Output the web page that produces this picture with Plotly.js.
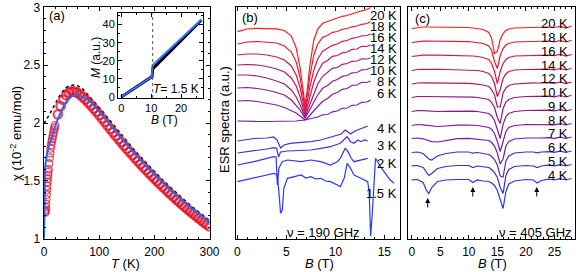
<!DOCTYPE html>
<html><head><meta charset="utf-8">
<script src="https://cdn.plot.ly/plotly-3.0.1.min.js"></script>
<style>html,body{margin:0;padding:0;background:#fff}#chart{width:581px;height:272px}</style>
</head><body><div id="chart"></div>
<script>
// ---------------- Panel (a): susceptibility ----------------
const T_exp = [1.8,2.2,2.6,3,3.5,4,4.5,5,5.5,6,6.5,7,7.5,8,9,10,11,12,13,14,15,16,17,18,19,20,
  25,30,35,40,45,50,55,60,65,70,75,80,85,90,95,100,105,110,115,120,125,130,135,140,145,150,
  155,160,165,170,175,180,185,190,195,200,205,210,215,220,225,230,235,240,245,250,255,260,
  265,270,275,280,285,290,295,300];
const chi_exp = [1.225,1.235,1.25,1.27,1.30,1.34,1.38,1.42,1.455,1.49,1.52,1.55,1.575,1.60,1.65,1.70,1.74,1.78,1.81,1.84,1.865,1.89,1.915,1.94,1.96,1.98,
  2.075,2.145,2.20,2.24,2.262,2.273,2.272,2.262,2.246,2.226,2.203,2.178,2.152,2.125,2.098,2.07,2.039,2.009,1.979,1.949,1.919,1.890,1.861,1.833,1.805,1.778,
  1.750,1.723,1.696,1.670,1.644,1.619,1.594,1.569,1.544,1.520,1.496,1.473,1.450,1.427,1.404,1.382,1.360,1.338,1.317,1.296,1.275,1.255,
  1.235,1.216,1.197,1.178,1.159,1.141,1.123,1.105];
const T_fit = [0,0.3,0.6,1,1.5,2,3,4,6,8,10,13,16,20,25,30,35,40,45,50,55,60,65,70,80,90,100,
  110,120,130,140,150,160,170,180,190,200,210,220,230,240,250,260,270,280,290,300];
const chi_fit = [1.0,1.2,1.38,1.5,1.57,1.61,1.66,1.695,1.745,1.785,1.82,1.87,1.915,1.97,2.035,2.09,2.14,2.18,2.21,2.23,2.24,2.242,2.237,2.227,2.2,2.155,2.10,
  2.042,1.983,1.925,1.868,1.813,1.758,1.705,1.654,1.604,1.555,1.508,1.462,1.417,1.373,1.331,1.29,1.251,1.213,1.176,1.14];
const T_dot = [0,5,10,15,20,25,30,35,40,45,50,55,60,65,70,80,90,100,110,120,130,140,150,160,170,180,190,200,210,220,230,240,250,260,270,280,290,300];
const chi_dot = [1.995,2.03,2.075,2.12,2.165,2.21,2.25,2.28,2.305,2.32,2.328,2.33,2.325,2.312,2.295,2.24,2.19,2.135,2.077,2.018,1.958,1.9,1.843,1.787,1.733,1.681,1.63,1.58,1.532,1.485,1.44,1.395,1.352,1.31,1.27,1.231,1.193,1.157];

// inset: magnetization at T = 1.5 K
const B_M_exp = [0,2,4,6,8,10,10.3,10.5,12,14,16,18,20,22,24,26,26.8];
const M_exp   = [0,2.2,4.3,6.5,8.7,10.8,11.3,15.5,18,21.3,24.6,27.9,31.2,34.5,37.7,41,42.5];
const B_M_fit = [0,5,10.2,10.45,15,20,26.8];
const M_fit   = [0,5.6,11.2,17.5,24.5,32,42.8];
const B_jump  = 10.5;

// ---------------- Panel (b): ESR at 190 GHz ----------------
const temps190 = ['20 K','18 K','16 K','14 K','12 K','10 K','8 K','6 K','4 K','3 K','2 K','1.5 K'];
const B190_hi = [0,1,2,3,4,4.8,5.5,6.0,6.4,6.7,6.9,7.1,7.4,7.8,8.2,8.7,9.2,9.7,10.2,10.7,11.2,11.7,12.2,12.7,13.2,13.6];
const esr190_20K = [206.8,209.5,210.2,210.2,209.7,208,202.5,190.5,170.5,148.5,133.5,146.5,173.5,198.5,209.5,215.2,217,219.2,220.5,222.2,223,224.7,226,227.7,229,231];
const esr190_18K = [194.5,196.5,197,196.5,195.5,192.5,186.5,176.5,160.5,142.5,129.5,140.5,162.5,183.5,194.5,201.2,203,206.2,207,209.2,210,211.7,212.5,214.2,215,216.8];
const esr190_16K = [183.5,184.5,184.5,183.5,181.5,178.5,172.5,163.5,150.5,137.5,126.5,135.5,151.5,168.5,179.5,187.2,190,193.2,194.5,197.2,198,200.2,201,202.7,203,204.5];
const esr190_14K = [173.5,174,173.5,172,169.5,166.5,160.5,152.5,141.5,131.5,123.5,130.5,142.5,156.5,166.5,175.2,178,182.2,183,185.7,186.5,189.2,189.5,192.2,192,193.5];
const esr190_12K = [163.5,163.5,162.5,160.5,157.5,154.5,148.5,141.5,133.5,126.5,121.5,126.5,134.5,145.5,154.5,162.2,166,170.2,171,174.2,175,177.2,177.5,179.7,179.5,180.5];
const esr190_10K = [150.5,151,150,148.5,146,143.5,138.5,133.5,128.5,123.5,120,123.5,129.5,136.5,143.5,150.2,153,157.2,159,162.2,163,165.7,166,168.7,169,170.5];
const esr190_8K  = [137.5,138,137,135.5,133.5,131,128,125.5,122.5,120.5,118.5,120,123,127.5,132,137.2,140,144.2,146,149.2,150,153.2,153.5,156.2,156,157.5];
const esr190_6K  = [117.5,117,117,117,117,117.5,117.5,117.5,118,118,118.5,119,119.5,120.5,121.5,123.7,124,126.7,127.5,130.2,130.5,133.2,133.5,136.2,136.5,138.5];
const B190_4K = [0,1.7,3.0,3.7,4.05,4.4,4.75,5.4,6.5,7.5,8.5,9.5,10.2,10.6,11.0,11.3,11.55,12.0,12.6,13.0,13.3];
const esr190_4K = [97.5,100,100.5,101.5,98.5,90.5,93.5,95.2,96.2,96.8,98.5,101.5,103,104.5,108.5,106.5,104.5,107.5,109.5,111.5,112.5];
const B190_3K = [0,1.7,3.0,3.7,4.0,4.2,4.4,5.1,6.5,7.5,8.5,9.5,10.5,10.9,11.2,11.55,11.9,12.3,12.6,13.0,13.3];
const esr190_3K = [85.5,87.5,89.5,90.8,90.2,81.5,86.5,87.5,88.5,88.5,90.2,91.8,95.2,99.5,101.8,96.8,95.2,98.5,96.8,98.5,97.5];
const B190_2K = [0,1.7,3.0,3.7,3.95,4.07,4.24,4.58,5.1,6.5,7.5,8.5,9.5,10.2,10.5,11.0,11.3,11.6,11.9,12.6,13.3];
const esr190_2K = [73.5,76.8,80.2,81.8,81.5,53.5,70.5,76.8,78.5,76.8,78.5,76.8,73.5,76.8,80.2,90.2,86.8,80.5,76.8,78.5,80.2];
const B190_15K = [0,1.7,3.0,3.7,4.07,4.3,4.4,4.58,4.74,5.1,5.8,6.5,7.0,7.5,8.0,8.5,9.0,9.5,10.2,10.5,10.9,11.2,11.55,11.9,12.6,13.3,13.45,13.6,13.76,13.95,14.1,14.6,15.0,15.3,15.6,16.0];
const esr190_15K = [56.8,60.2,63.5,65.2,63.5,38.5,25.2,28.5,50.2,60.2,61.8,63.5,60.5,61.8,59.5,60.2,57.5,56.8,53.5,51.8,60.2,75.2,70.2,63.5,60.2,56.8,46.8,2.5,23.5,63.5,80.2,71.8,66.5,63.5,58.5,55.2];

// ---------------- Panel (c): ESR at 405 GHz ----------------
const temps405 = ['20 K','18 K','16 K','14 K','12 K','10 K','9 K','8 K','7 K','6 K','5 K','4 K'];
const B405 = [0,1,2,2.5,3,3.5,4.5,6,8,10,10.7,11.5,12.5,13.5,14,14.5,15,15.5,16,16.5,17,18,20,21.3,22,22.7,24,25,26,27,28];
const offset405 = [211,197,183,169,155.5,142,128,114,100.5,86.5,73,59];
const esr405 = [
 [-1,0,0.5,0.5,0.5,0.5,0.5,0.3,0,0,-0.5,-1,-2,-5,-11,-26,-24,-12,-6,-3,-1.5,-0.5,0,0.3,0,0.3,0.5,0,1.2,-0.5,1.5],
 [-1,0,0.3,0.5,0.5,0.5,0.3,0.3,0,-0.2,-0.5,-1,-2,-4.5,-9,-20,-27,-14,-7,-3.5,-2,-0.5,0,0.2,0,0.3,0.5,-0.3,1,-0.5,1.2],
 [-1,0,0.3,0.3,0.5,0.3,0.3,0.2,0,-0.3,-0.5,-1,-2,-4,-8,-16,-28,-16,-8,-4,-2,-0.5,0,0.3,0,0.3,0.4,-0.2,1.2,-0.6,1],
 [-1,0,0.2,0.3,0.3,0.3,0.2,0,-0.2,-0.4,-0.6,-1,-2,-4,-7,-14,-27,-20,-9,-4.5,-2,-0.5,0,0.2,0,0.3,0.3,-0.3,1,-0.5,1.2],
 [-1,0,0.2,0.2,0.2,0,-0.3,-0.5,-0.3,-0.4,-0.6,-1,-2,-3.5,-6.5,-12,-24,-24,-10,-5,-2.5,-1,0,0.2,0,0.3,0.3,-0.3,1,-0.6,1],
 [-1,0,0,0,-0.2,-0.4,-0.6,-0.6,-0.4,-0.5,-0.6,-1,-2,-3,-6,-11,-21,-27,-12,-5.5,-3,-1,0,0.2,-0.2,0.2,0.3,-0.3,1,-0.5,1.2],
 [-1,0,-0.2,-0.4,-0.6,-0.8,-1,-0.8,-0.5,-0.5,-0.6,-1,-2,-3,-5.5,-10,-19,-28,-14,-6,-3,-1,0,0.2,-0.2,0.2,0.3,-0.3,0.8,-0.5,1],
 [-1,0,-0.4,-0.8,-1.2,-1.5,-2,-1.5,-0.6,-0.5,-0.6,-1,-2,-3,-5,-9,-17,-27,-17,-7,-3,-1,0,0,-0.3,0.2,0.3,-0.3,0.8,-0.5,1],
 [-0.5,0,-0.8,-1.8,-2.8,-3.6,-4,-2.5,-0.6,-0.3,-0.8,-1,-2,-2.5,-4.5,-8,-15,-26,-21,-8,-3.5,-1,0,0,-0.5,0,0.3,-0.3,0.8,-0.5,1],
 [-0.5,0,-1.5,-4,-7,-8,-4,-1.5,0,0,-1.2,-0.5,-1.5,-2.5,-4.5,-7.5,-13,-24,-25,-9,-4,-1,0,0,-0.8,0,0.3,-0.3,0.8,-0.5,1],
 [-0.3,0,-2,-6,-10,-8,-3,-1,0,0,-2,-0.5,-1.5,-2,-4,-7,-12,-22,-28,-10,-4,-1,0,-0.5,-2,-0.5,0.3,-0.3,0.8,-0.5,1],
 [-0.3,0,-3,-10,-14,-8,-2,-0.5,0,0,-3,-0.5,-1.5,-2,-3.5,-6,-11,-20,-29,-12,-4.5,-1.5,0,-0.5,-3.5,-1,0.3,-0.3,0.8,-0.5,1]
];
const featureFields405 = [2.8, 10.7, 21.9];

// ---------------- styling ----------------
const F = 'Liberation Sans, Arial, Helvetica, sans-serif';
const W = 581, H = 272;
const fx = p => p / W, fy = p => (H - p) / H;
const colors190 = ['#ff1a1a','#e8183a','#d0184f','#b81862','#a01a78','#8c1c8c','#7a20a0','#6a22b4','#5828c8','#4430dc','#3434ec','#2238ff'];
const colors405 = ['#f51d1d','#e8182f','#d81840','#c41552','#b01466','#9c1478','#8a188c','#7a1ca0','#6820b4','#5226c8','#3c2ada','#2a35f0'];

const traces = [];
traces.push({x:T_dot,y:chi_dot,xaxis:'x',yaxis:'y',mode:'lines',line:{color:'#000',width:1.5,dash:'dot'},hoverinfo:'skip'});
traces.push({x:T_exp,y:chi_exp,xaxis:'x',yaxis:'y',mode:'markers',
  marker:{symbol:'circle-open',size:T_exp.map(t=>t<22?7.5:8.5),color:'#e3001b',line:{width:T_exp.map(t=>t<22?1.3:2.3),color:'#e3001b'}},hoverinfo:'skip'});
traces.push({x:T_fit,y:chi_fit,xaxis:'x',yaxis:'y',mode:'lines',line:{color:'#3366ee',width:2},hoverinfo:'skip'});
traces.push({x:B_M_exp,y:M_exp,xaxis:'x4',yaxis:'y4',mode:'lines',line:{color:'#000',width:3},hoverinfo:'skip'});
traces.push({x:B_M_fit,y:M_fit,xaxis:'x4',yaxis:'y4',mode:'lines',line:{color:'#3a70ff',width:2},hoverinfo:'skip'});

const hi190 = [esr190_20K,esr190_18K,esr190_16K,esr190_14K,esr190_12K,esr190_10K,esr190_8K,esr190_6K];
hi190.forEach((s,i)=>traces.push({x:B190_hi,y:s,xaxis:'x2',yaxis:'y2',mode:'lines',line:{color:colors190[i],width:1.2},hoverinfo:'skip'}));
[[B190_4K,esr190_4K],[B190_3K,esr190_3K],[B190_2K,esr190_2K],[B190_15K,esr190_15K]].forEach((p,i)=>
  traces.push({x:p[0],y:p[1],xaxis:'x2',yaxis:'y2',mode:'lines',line:{color:colors190[8+i],width:1.2},hoverinfo:'skip'}));
esr405.forEach((s,i)=>traces.push({x:B405,y:s.map(v=>v+offset405[i]),xaxis:'x3',yaxis:'y3',mode:'lines',line:{color:colors405[i],width:1.2},hoverinfo:'skip'}));

function ax(o){
  return Object.assign({showline:true,linecolor:'#000',linewidth:1,mirror:'allticks',ticks:'inside',ticklen:4,tickwidth:1,tickcolor:'#000',
    showgrid:false,zeroline:false,tickfont:{family:F,size:12,color:'#000'}},o);
}
const esrY = {domain:[fy(238.5),fy(6.5)],range:[0,232],showline:true,linecolor:'#000',linewidth:1,mirror:true,ticks:'',showticklabels:false,showgrid:false,zeroline:false};

const ann = [];
const txt = (o)=>ann.push(Object.assign({showarrow:false,xanchor:'center',yanchor:'middle',font:{family:F,size:13,color:'#000'}},o));
// panel labels
txt({text:'(a)',xref:'paper',yref:'paper',x:fx(57),y:fy(15)});
txt({text:'(b)',xref:'paper',yref:'paper',x:fx(250),y:fy(18)});
txt({text:'(c)',xref:'paper',yref:'paper',x:fx(422),y:fy(19)});
// axis titles
txt({text:'χ (10<sup>-2</sup> emu/mol)',xref:'paper',yref:'paper',x:fx(16),y:fy(134),textangle:-90});
txt({text:'<i>T</i> (K)',xref:'paper',yref:'paper',x:fx(125),y:fy(263.5)});
txt({text:'<i>B</i> (T)',xref:'paper',yref:'paper',x:fx(320),y:fy(263.5)});
txt({text:'<i>B</i> (T)',xref:'paper',yref:'paper',x:fx(492),y:fy(263.5)});
txt({text:'ESR spectra (a.u.)',xref:'paper',yref:'paper',x:fx(224),y:fy(120),textangle:-90});
txt({text:'<i>M</i> (a.u.)',xref:'paper',yref:'paper',x:fx(96),y:fy(58),textangle:-90,font:{family:F,size:12,color:'#000'}});
txt({text:'<i>B</i> (T)',xref:'paper',yref:'paper',x:fx(164),y:fy(120),font:{family:F,size:12,color:'#000'}});
txt({text:'<i>T</i>= 1.5 K',xref:'paper',yref:'paper',x:fx(201),y:fy(89),xanchor:'right',font:{family:F,size:12,color:'#000'}});
txt({text:'ν = 190 GHz',xref:'paper',yref:'paper',x:fx(323),y:fy(232)});
txt({text:'ν = 405 GHz',xref:'paper',yref:'paper',x:fx(535),y:fy(232)});
// temperature labels
const lab190Y = [223.5,211.8,201.2,190.2,179.2,167.8,156.8,145.2,110.2,93.5,75.2,45.2];
temps190.forEach((t,i)=>txt({text:t,xref:'x2',yref:'y2',x:16.5,y:lab190Y[i],xanchor:'right'}));
temps405.forEach((t,i)=>txt({text:t,xref:'x3',yref:'y3',x:27.8,y:offset405[i]+4.5,xanchor:'right'}));
// arrows
const arrowY = [40.5,51.5,51.5];
featureFields405.forEach((b,i)=>ann.push({x:b,y:arrowY[i],xref:'x3',yref:'y3',text:'',showarrow:true,arrowhead:2,arrowsize:1,arrowwidth:1,arrowcolor:'#000',ax:0,ay:11}));

const layout = {
  width:W,height:H,margin:{l:0,r:0,t:0,b:0},paper_bgcolor:'#fff',plot_bgcolor:'#fff',showlegend:false,
  font:{family:F,size:12,color:'#000'},
  xaxis: ax({domain:[fx(43.5),fx(209.5)],range:[-1,300],dtick:100,tick0:0,anchor:'y',ticklabelstandoff:2,minor:{dtick:20,ticks:'inside',ticklen:2,tickcolor:'#000'}}),
  yaxis: ax({domain:[fy(238.7),fy(7.3)],range:[1,3],dtick:0.5,tick0:1,anchor:'x',minor:{dtick:0.1,ticks:'inside',ticklen:2,tickcolor:'#000'}}),
  xaxis2: ax({domain:[fx(235.7),fx(400)],range:[-0.18,16.6],dtick:5,tick0:0,anchor:'y2',ticklabelstandoff:2,minor:{dtick:1,ticks:'inside',ticklen:2,tickcolor:'#000'}}),
  yaxis2: Object.assign({anchor:'x2'},esrY),
  xaxis3: ax({domain:[fx(408.3),fx(575)],range:[-0.6,28.6],dtick:5,tick0:0,anchor:'y3',ticklabelstandoff:2,minor:{dtick:1,ticks:'inside',ticklen:2,tickcolor:'#000'}}),
  yaxis3: Object.assign({anchor:'x3'},esrY),
  xaxis4: ax({domain:[fx(118),fx(203)],range:[-1.07,27.3],dtick:10,tick0:0,anchor:'y4',tickfont:{family:F,size:11,color:'#000'},minor:{dtick:5,ticks:'inside',ticklen:2,tickcolor:'#000'}}),
  yaxis4: ax({domain:[fy(98),fy(13.3)],range:[-0.55,46.2],dtick:10,tick0:0,anchor:'x4',tickfont:{family:F,size:11,color:'#000'},minor:{dtick:5,ticks:'inside',ticklen:2,tickcolor:'#000'}}),
  shapes:[{type:'line',xref:'x4',yref:'y4 domain',x0:B_jump,x1:B_jump,y0:0,y1:1,line:{color:'#555',width:1,dash:'dot'}}],
  annotations: ann
};
Plotly.newPlot('chart',traces,layout,{staticPlot:true,displayModeBar:false});
</script></body></html>
